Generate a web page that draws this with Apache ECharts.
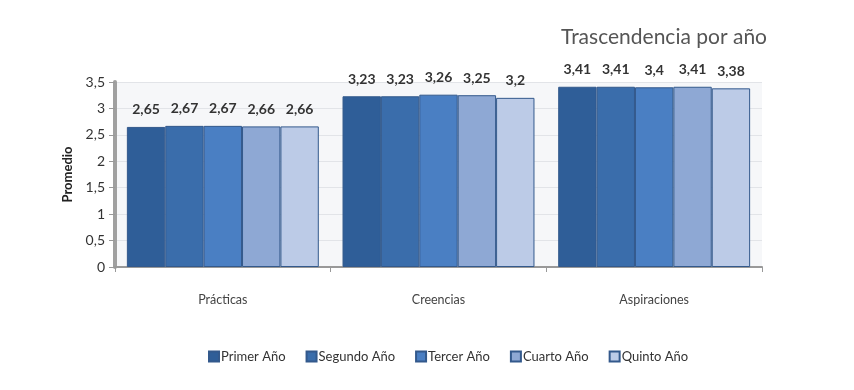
<!DOCTYPE html>
<html><head><meta charset="utf-8">
<script src="https://cdn.jsdelivr.net/npm/echarts@6/dist/echarts.min.js"></script>
<style>html,body{margin:0;padding:0;background:#fff}#c{width:854px;height:390px}</style>
</head><body><div id="c"></div>
<script>
const categories = ['Prácticas', 'Creencias', 'Aspiraciones'];
const seriesNames = ['Primer Año', 'Segundo Año', 'Tercer Año', 'Cuarto Año', 'Quinto Año'];
const primerAno = [2.65, 3.23, 3.41];
const segundoAno = [2.67, 3.23, 3.41];
const tercerAno = [2.67, 3.26, 3.40];
const cuartoAno = [2.66, 3.25, 3.41];
const quintoAno = [2.66, 3.20, 3.38];
const yTicks = ['0', '0,5', '1', '1,5', '2', '2,5', '3', '3,5'];
const colors = ['#2f5e98', '#3a6dab', '#4a7fc3', '#8ea8d4', '#bccbe7'];
const values = [primerAno, segundoAno, tercerAno, cuartoAno, quintoAno];

const chart = echarts.init(document.getElementById('c'));
chart.setOption({
  animation: false,
  backgroundColor: '#fff',
  title: {
    text: 'Trascendencia por año',
    right: 82, top: 22,
    textStyle: { fontFamily: 'Lato', fontSize: 21, fontWeight: 'normal', color: '#555' }
  },
  legend: {
    bottom: 22, left: 203,
    itemWidth: 10, itemHeight: 10, itemGap: 20,
    icon: 'rect',
    textStyle: { fontFamily: 'Lato', fontSize: 13, color: '#333', padding: [0, 0, 0, -3] },
    data: seriesNames
  },
  grid: { left: 115, right: 92, top: 82, bottom: 123, show: true, backgroundColor: '#f6f7f9', borderWidth: 0 },
  xAxis: {
    type: 'category', data: categories,
    axisLine: { lineStyle: { color: '#999', width: 2 } },
    axisTick: { show: true, lineStyle: { color: '#999' } },
    axisLabel: { fontFamily: 'Lato', fontSize: 12.5, color: '#444', margin: 26 }
  },
  yAxis: {
    type: 'value', min: 0, max: 3.5, interval: 0.5,
    name: 'Promedio', nameLocation: 'middle', nameGap: 26,
    nameTextStyle: { fontFamily: 'Lato', fontSize: 13, fontWeight: 'bold', color: '#222' },
    axisLine: { show: true, lineStyle: { color: '#a0a0a0', width: 4 } },
    axisTick: { show: true, length: 6, lineStyle: { color: '#999' } },
    axisLabel: {
      fontFamily: 'Lato', fontSize: 14, color: '#333', margin: 10,
      formatter: function (v) { return yTicks[Math.round(v * 2)]; }
    },
    splitLine: { lineStyle: { color: '#e2e4e8' } }
  },
  series: seriesNames.map(function (name, i) {
    return {
      name: name, type: 'bar', data: values[i],
      barGap: '0%', barCategoryGap: '11%',
      itemStyle: { color: colors[i], borderColor: '#33598c', borderWidth: 1 },
      label: {
        show: true, position: 'top', distance: 10,
        fontFamily: 'Lato', fontSize: 14, fontWeight: 'bold', color: '#333',
        formatter: function (p) { return String(p.value).replace('.', ','); }
      }
    };
  })
});
</script></body></html>
